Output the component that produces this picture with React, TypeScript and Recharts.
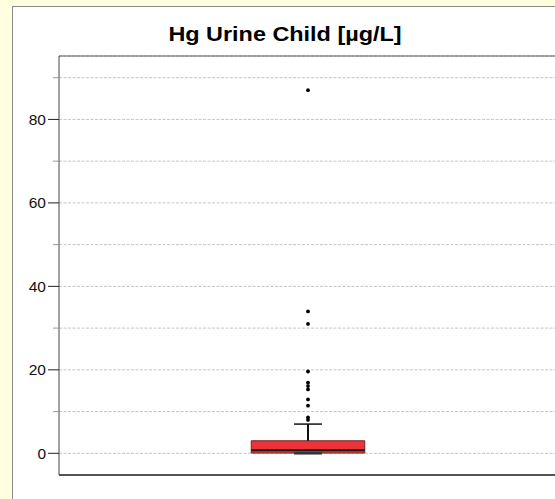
import React from "react";
import {
  ComposedChart,
  Scatter,
  XAxis,
  YAxis,
  CartesianGrid,
  ReferenceArea,
  ReferenceLine,
} from "recharts";

// Box statistics for urinary mercury, children (µg/L)
const boxStats = { min: 0.0, q1: 0.05, median: 0.75, q3: 3.0, whiskerTop: 7.0 };
const outlierValues = [87.0, 34.0, 31.0, 19.6, 16.9, 16.1, 15.3, 12.9, 11.4, 8.6, 8.0];
const yTicks = [0, 10, 20, 30, 40, 50, 60, 70, 80, 90];

const Y_MIN = -5.2;
const Y_MAX = 95.2;
const CENTER = 0.5;
const BOX_HALF = 0.114;
const CAP_HALF = 0.028;

const outliers = outlierValues.map((v) => ({ x: CENTER, y: v }));

const YTick = ({ x, y, payload }: any) => {
  const major = payload.value % 20 === 0;
  return (
    <g>
      <line x1={x - (major ? 11 : 6)} x2={x} y1={y} y2={y} stroke={major ? "#222" : "#999"} strokeWidth={1} />
      {major && (
        <text x={x - 13} y={y} dy={5.5} textAnchor="end" fontSize={15.5} fill="#111" fontFamily="Liberation Sans, Arial, sans-serif">
          {payload.value}
        </text>
      )}
    </g>
  );
};

const Dot = ({ cx, cy }: any) => <circle cx={cx} cy={cy} r={1.9} fill="#000" />;

export default function App() {
  return (
    <div style={{ position: "absolute", left: 0, top: 0, width: 555, height: 499, overflow: "hidden", background: "#FFFFE0" }}>
      <div
        style={{
          position: "absolute",
          left: 12,
          top: 6,
          width: 560,
          height: 510,
          background: "#fff",
          borderLeft: "1px solid #8a8a8a",
          borderTop: "1px solid #8a8a8a",
        }}
      />
      <div
        style={{
          position: "absolute",
          left: 12,
          width: 546,
          top: 23,
          textAlign: "center",
          fontFamily: "Liberation Sans, Arial, sans-serif",
          fontWeight: "bold",
          fontSize: 20,
          lineHeight: "23px",
          color: "#000",
          transform: "scaleX(1.17)",
        }}
      >
        Hg Urine Child [µg/L]
      </div>
      <div style={{ position: "absolute", left: 0, top: 0 }}>
        <ComposedChart width={570} height={499} margin={{ top: 56, right: 13, bottom: 24, left: 9 }} data={outliers}>
          <CartesianGrid horizontal vertical={false} stroke="#c4c4c4" strokeDasharray="3 1.5" />
          <XAxis type="number" dataKey="x" domain={[0, 1]} hide />
          <YAxis
            type="number"
            dataKey="y"
            domain={[Y_MIN, Y_MAX]}
            ticks={yTicks}
            allowDataOverflow
            width={50}
            tickSize={0}
            tickMargin={0}
            tickLine={false}
            tick={<YTick />}
            axisLine={{ stroke: "#444", strokeWidth: 1 }}
          />
          <ReferenceLine y={Y_MAX} stroke="#555" strokeWidth={1} />
          <ReferenceLine y={Y_MIN} stroke="#555" strokeWidth={2} />
          {/* whiskers */}
          <ReferenceLine segment={[{ x: CENTER, y: boxStats.q3 }, { x: CENTER, y: boxStats.whiskerTop }]} stroke="#111" strokeWidth={2} />
          <ReferenceLine
            segment={[{ x: CENTER - CAP_HALF, y: boxStats.whiskerTop }, { x: CENTER + CAP_HALF, y: boxStats.whiskerTop }]}
            stroke="#111"
            strokeWidth={1.5}
          />
          <ReferenceLine
            segment={[{ x: CENTER - CAP_HALF, y: boxStats.min }, { x: CENTER + CAP_HALF, y: boxStats.min }]}
            stroke="#333"
            strokeWidth={2.5}
          />
          {/* box */}
          <ReferenceArea
            x1={CENTER - BOX_HALF}
            x2={CENTER + BOX_HALF}
            y1={boxStats.q1}
            y2={boxStats.q3}
            fill="#EE3338"
            fillOpacity={1}
            stroke="#6b2a2a"
            strokeWidth={1}
          />
          <ReferenceLine
            segment={[{ x: CENTER - BOX_HALF, y: boxStats.median }, { x: CENTER + BOX_HALF, y: boxStats.median }]}
            stroke="#1a1a1a"
            strokeWidth={2}
          />
          <Scatter dataKey="y" fill="#000" shape={<Dot />} isAnimationActive={false} />
        </ComposedChart>
      </div>
    </div>
  );
}
